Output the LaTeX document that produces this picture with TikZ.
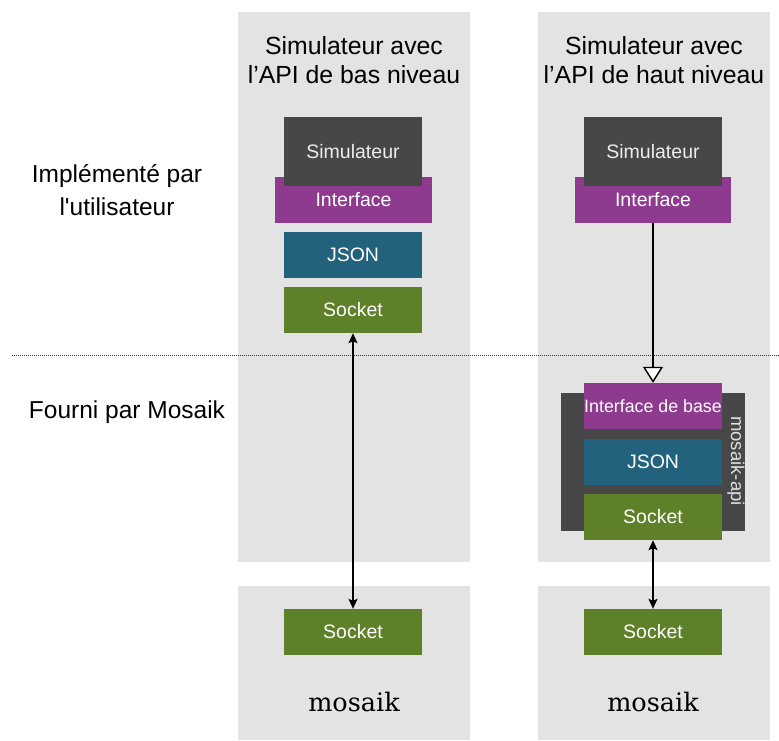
\documentclass[tikz,border=0pt]{standalone}
\usepackage{fontspec}
\setmainfont{Liberation Sans}
\newfontfamily\slabfont{DejaVu Serif}
\usetikzlibrary{arrows.meta}
\definecolor{panelgray}{HTML}{E3E3E3}
\definecolor{simgray}{HTML}{474747}
\definecolor{intfpurple}{HTML}{8E3A8E}
\definecolor{jsonblue}{HTML}{23627D}
\definecolor{sockgreen}{HTML}{5E8028}
\begin{document}
\begin{tikzpicture}[x=1pt, y=-1pt,
        every node/.style={inner sep=0pt, font=\fontsize{19.5}{22}\selectfont},
        blk/.style={minimum width=138pt, minimum height=46pt, text=white},
        wide/.style={blk, minimum width=157pt},
        tall/.style={blk, minimum height=69pt},
        head/.style={align=center, font=\fontsize{24.8}{29}\selectfont},
        side/.style={align=center, font=\fontsize{24.5}{33}\selectfont},
        brand/.style={font=\slabfont\fontsize{25.5}{28}\selectfont},
        link/.style={line width=1.4pt, {Stealth[length=10pt, width=9pt, inset=2pt]}-{Stealth[length=10pt, width=9pt, inset=2pt]}}]
        \useasboundingbox (0,0) rectangle (779,740);
        % grey columns
        \fill[panelgray] (238,12) rectangle (470,562);
        \fill[panelgray] (538,12) rectangle (770,562);
        \fill[panelgray] (238,586) rectangle (470,740);
        \fill[panelgray] (538,586) rectangle (770,740);
        \draw[line width=0.6pt, dash pattern=on 1pt off 1pt, black!80] (12,355) -- (779,355);
        % headers and side labels
        \node[head] (hleft) at (354,60) {Simulateur avec\\l’API de bas niveau};
        \node[head] (hright) at (654,60) {Simulateur avec\\l’API de haut niveau};
        \node[side] (impl) at (117,190) {Implémenté par\\l\textquotesingle utilisateur};
        \node[side] (fourni) at (127,412) {Fourni par Mosaik};
        % low level API
        \node[wide, fill=intfpurple] (intfL) at (353.5,200) {Interface};
        \node[tall, fill=simgray, text=white!93!black] (simL) at (353,151.5) {Simulateur};
        \node[blk, fill=jsonblue] (jsonL) at (353,255) {JSON};
        \node[blk, fill=sockgreen] (sockL) at (353,310) {Socket};
        % high level API
        \node[wide, fill=intfpurple, minimum width=156pt] (intfR) at (653,200) {Interface};
        \node[tall, fill=simgray, text=white!93!black] (simR) at (653,151.5) {Simulateur};
        \node[fill=simgray, minimum width=184pt, minimum height=138pt] (api) at (653,462) {};
        \node[text=white!88!black, rotate=-90, font=\fontsize{18.5}{22}\selectfont] (apilbl) at (736,461) {mosaik-api};
        \node[blk, fill=intfpurple, font=\fontsize{17.8}{22}\selectfont] (baseR) at (653,406) {Interface de base};
        \node[blk, fill=jsonblue] (jsonR) at (653,462) {JSON};
        \node[blk, fill=sockgreen] (sockR) at (653,517) {Socket};
        % mosaik
        \node[blk, fill=sockgreen] (sockLb) at (353,632) {Socket};
        \node[blk, fill=sockgreen] (sockRb) at (653,632) {Socket};
        \node[brand] (mosL) at (354,702) {mosaik};
        \node[brand] (mosR) at (653,702) {mosaik};
        % connections
        \draw[line width=1.4pt, -{Triangle[length=16pt, width=20pt, fill=white, line width=1.4pt]}] (intfR.south) -- (baseR.north);
        \draw[link] (sockL.south) -- (sockLb.north);
        \draw[link] (sockR.south) -- (sockRb.north);
    \end{tikzpicture}
\end{document}
